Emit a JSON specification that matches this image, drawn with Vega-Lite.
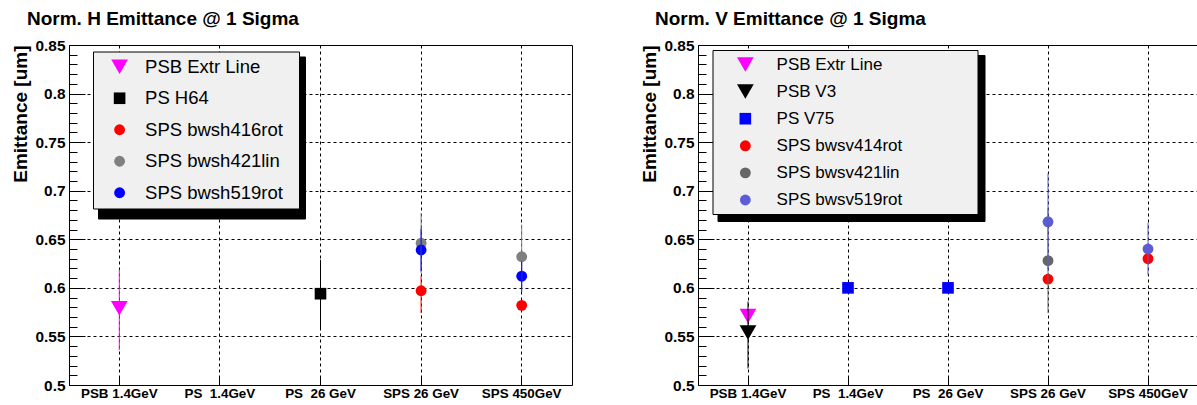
{
  "$schema": "https://vega.github.io/schema/vega-lite/v6.json",
  "padding": {"left": 10, "top": 9, "right": 0, "bottom": 0},
  "background": "white",
  "datasets": {
    "h": [
      {"series": "PSB Extr Line", "cat": "PSB 1.4GeV", "y": 0.579, "lo": 0.536, "hi": 0.619},
      {"series": "PS H64", "cat": "PS\u00a0 26 GeV", "y": 0.594, "lo": 0.558, "hi": 0.629},
      {"series": "SPS bwsh416rot", "cat": "SPS 26 GeV", "y": 0.597, "lo": 0.574, "hi": 0.613},
      {"series": "SPS bwsh421lin", "cat": "SPS 26 GeV", "y": 0.646, "lo": 0.615, "hi": 0.677},
      {"series": "SPS bwsh519rot", "cat": "SPS 26 GeV", "y": 0.639, "lo": 0.617, "hi": 0.661},
      {"series": "SPS bwsh416rot", "cat": "SPS 450GeV", "y": 0.582, "lo": 0.58, "hi": 0.584},
      {"series": "SPS bwsh421lin", "cat": "SPS 450GeV", "y": 0.632, "lo": 0.599, "hi": 0.665},
      {"series": "SPS bwsh519rot", "cat": "SPS 450GeV", "y": 0.612, "lo": 0.596, "hi": 0.627}
    ],
    "v": [
      {"series": "PSB Extr Line", "cat": "PSB 1.4GeV", "y": 0.571, "lo": 0.566, "hi": 0.576},
      {"series": "PSB V3", "cat": "PSB 1.4GeV", "y": 0.554, "lo": 0.517, "hi": 0.586},
      {"series": "PS V75", "cat": "PS\u00a0 1.4GeV", "y": 0.6, "lo": 0.598, "hi": 0.602},
      {"series": "PS V75", "cat": "PS\u00a0 26 GeV", "y": 0.6, "lo": 0.598, "hi": 0.602},
      {"series": "SPS bwsv414rot", "cat": "SPS 26 GeV", "y": 0.609, "lo": 0.605, "hi": 0.613},
      {"series": "SPS bwsv421lin", "cat": "SPS 26 GeV", "y": 0.628, "lo": 0.574, "hi": 0.682},
      {"series": "SPS bwsv519rot", "cat": "SPS 26 GeV", "y": 0.668, "lo": 0.618, "hi": 0.718},
      {"series": "SPS bwsv414rot", "cat": "SPS 450GeV", "y": 0.63, "lo": 0.627, "hi": 0.633},
      {"series": "SPS bwsv519rot", "cat": "SPS 450GeV", "y": 0.64, "lo": 0.613, "hi": 0.667}
    ]
  },
  "spacing": 66,
  "resolve": {"scale": {"color": "independent", "shape": "independent", "size": "independent", "fill": "independent", "y": "independent", "x": "independent"}, "legend": {"color": "independent", "shape": "independent", "size": "independent", "fill": "independent"}},
  "hconcat": [
    {
      "width": 503,
      "height": 340,
      "title": {"text": "Norm. H Emittance @ 1 Sigma", "anchor": "start", "frame": "group", "dx": -42, "offset": -5.8, "baseline": "alphabetic", "fontSize": 19, "fontWeight": "bold", "font": "Liberation Sans", "color": "#000"},
      "data": {"name": "h"},
      "encoding": {
        "x": {"field": "cat", "type": "nominal", "sort": null, "title": null,
          "scale": {"domain": ["PSB 1.4GeV", "PS\u00a0 1.4GeV", "PS\u00a0 26 GeV", "SPS 26 GeV", "SPS 450GeV"], "paddingInner": 0, "paddingOuter": 0}}
      },
      "resolve": {"scale": {"y": "independent"}},
      "layer": [
        {
          "mark": {"type": "point", "filled": true, "opacity": 1, "zindex": 2},
          "encoding": {
            "y": {"field": "y", "type": "quantitative", "title": "Emittance [um]", "scale": {"domain": [0.5, 0.85], "nice": false, "zero": false},
              "axis": {"orient": "left", "values": [0.5, 0.55, 0.6, 0.65, 0.7, 0.75, 0.8, 0.85], "format": "~g", "tickSize": -16, "labelPadding": 20, "grid": true}},
            "color": {"field": "series", "type": "nominal",
              "scale": {"domain": ["PSB Extr Line", "PS H64", "SPS bwsh416rot", "SPS bwsh421lin", "SPS bwsh519rot"], "range": ["#ff00ff", "#000000", "#ff0000", "#808080", "#0000ff"]},
              "legend": {"orient": "none", "legendX": 24, "legendY": 6.5, "padding": 6, "symbolOffset": 11.35, "labelOffset": 16.2, "labelFontSize": 18.5, "labelFont": "Liberation Sans", "labelColor": "#000", "rowPadding": 12.5, "fillColor": "#f0f0f0", "strokeColor": "#000", "title": "\u00a0", "titleOrient": "right", "titlePadding": 10, "titleFontSize": 11, "zindex": 4, "symbolStrokeWidth": 0}},
            "shape": {"field": "series", "type": "nominal",
              "scale": {"domain": ["PSB Extr Line", "PS H64", "SPS bwsh416rot", "SPS bwsh421lin", "SPS bwsh519rot"], "range": ["triangle-down", "square", "circle", "circle", "circle"]}},
            "size": {"field": "series", "type": "nominal",
              "scale": {"type": "ordinal", "domain": ["PSB Extr Line", "PS H64", "SPS bwsh416rot", "SPS bwsh421lin", "SPS bwsh519rot"], "range": [280, 135, 118, 118, 118]}}
          }
        },
        {
          "mark": {"type": "rule", "strokeWidth": 1, "zindex": 1},
          "encoding": {
            "y": {"field": "lo", "type": "quantitative", "scale": {"domain": [0.5, 0.85], "nice": false, "zero": false}, "axis": null},
            "y2": {"field": "hi"},
            "color": {"field": "series", "type": "nominal", "legend": null,
              "scale": {"domain": ["PSB Extr Line", "PS H64", "SPS bwsh416rot", "SPS bwsh421lin", "SPS bwsh519rot"], "range": ["#ff00ff", "#000000", "#ff0000", "#808080", "#0000ff"]}}
          }
        },
        {
          "mark": {"type": "point", "filled": true, "opacity": 0},
          "encoding": {
            "y": {"field": "y", "type": "quantitative", "scale": {"domain": [0.5, 0.85], "nice": false, "zero": false},
              "axis": {"orient": "left", "title": null, "labels": false, "grid": false, "domain": false, "tickSize": -8,
                "values": [0.51, 0.52, 0.53, 0.54, 0.56, 0.57, 0.58, 0.59, 0.61, 0.62, 0.63, 0.64, 0.66, 0.67, 0.68, 0.69, 0.71, 0.72, 0.73, 0.74, 0.76, 0.77, 0.78, 0.79, 0.81, 0.82, 0.83, 0.84]}},
            "fill": {"field": "series", "type": "nominal", "scale": {"range": ["#000000"]},
              "legend": {"orient": "none", "legendX": 29, "legendY": 11.5, "padding": 6, "symbolOffset": 13, "labelOffset": 0, "labelExpr": "''", "labelFontSize": 18.5, "labelFont": "Liberation Sans", "labelColor": "#000", "rowPadding": 12.5, "fillColor": "#000", "strokeColor": "#000", "title": "\u00a0", "titleOrient": "right", "titlePadding": 161.05, "titleFontSize": 11, "titleColor": "#000", "symbolSize": 342, "zindex": 3}}
          }
        }
      ]
    },
    {
      "width": 500,
      "height": 340,
      "title": {"text": "Norm. V Emittance @ 1 Sigma", "anchor": "start", "frame": "group", "dx": -43, "offset": -5.8, "baseline": "alphabetic", "fontSize": 19, "fontWeight": "bold", "font": "Liberation Sans", "color": "#000"},
      "data": {"name": "v"},
      "encoding": {
        "x": {"field": "cat", "type": "nominal", "sort": null, "title": null,
          "scale": {"domain": ["PSB 1.4GeV", "PS\u00a0 1.4GeV", "PS\u00a0 26 GeV", "SPS 26 GeV", "SPS 450GeV"], "paddingInner": 0, "paddingOuter": 0}}
      },
      "resolve": {"scale": {"y": "independent"}},
      "layer": [
        {
          "mark": {"type": "point", "filled": true, "opacity": 1, "zindex": 2},
          "encoding": {
            "y": {"field": "y", "type": "quantitative", "title": "Emittance [um]", "scale": {"domain": [0.5, 0.85], "nice": false, "zero": false},
              "axis": {"orient": "left", "values": [0.5, 0.55, 0.6, 0.65, 0.7, 0.75, 0.8, 0.85], "format": "~g", "tickSize": -16, "labelPadding": 20, "grid": true}},
            "color": {"field": "series", "type": "nominal",
              "scale": {"domain": ["PSB Extr Line", "PSB V3", "PS V75", "SPS bwsv414rot", "SPS bwsv421lin", "SPS bwsv519rot"], "range": ["#ff00ff", "#000000", "#0000ff", "#ff0000", "#666666", "#5c5cd6"]},
              "legend": {"orient": "none", "legendX": 14.5, "legendY": 5, "padding": 6, "symbolOffset": 18.35, "labelOffset": 22.7, "labelFontSize": 17, "labelFont": "Liberation Sans", "labelColor": "#000", "rowPadding": 9.1, "fillColor": "#f0f0f0", "strokeColor": "#000", "title": "\u00a0", "titleOrient": "right", "titlePadding": 69, "titleFontSize": 11, "zindex": 4, "symbolStrokeWidth": 0}},
            "shape": {"field": "series", "type": "nominal",
              "scale": {"domain": ["PSB Extr Line", "PSB V3", "PS V75", "SPS bwsv414rot", "SPS bwsv421lin", "SPS bwsv519rot"], "range": ["triangle-down", "triangle-down", "square", "circle", "circle", "circle"]}},
            "size": {"field": "series", "type": "nominal",
              "scale": {"type": "ordinal", "domain": ["PSB Extr Line", "PSB V3", "PS V75", "SPS bwsv414rot", "SPS bwsv421lin", "SPS bwsv519rot"], "range": [280, 280, 135, 118, 118, 118]}}
          }
        },
        {
          "mark": {"type": "rule", "strokeWidth": 1, "zindex": 1},
          "encoding": {
            "y": {"field": "lo", "type": "quantitative", "scale": {"domain": [0.5, 0.85], "nice": false, "zero": false}, "axis": null},
            "y2": {"field": "hi"},
            "color": {"field": "series", "type": "nominal", "legend": null,
              "scale": {"domain": ["PSB Extr Line", "PSB V3", "PS V75", "SPS bwsv414rot", "SPS bwsv421lin", "SPS bwsv519rot"], "range": ["#ff00ff", "#000000", "#0000ff", "#ff0000", "#666666", "#5c5cd6"]}}
          }
        },
        {
          "mark": {"type": "point", "filled": true, "opacity": 0},
          "encoding": {
            "y": {"field": "y", "type": "quantitative", "scale": {"domain": [0.5, 0.85], "nice": false, "zero": false},
              "axis": {"orient": "left", "title": null, "labels": false, "grid": false, "domain": false, "tickSize": -8,
                "values": [0.51, 0.52, 0.53, 0.54, 0.56, 0.57, 0.58, 0.59, 0.61, 0.62, 0.63, 0.64, 0.66, 0.67, 0.68, 0.69, 0.71, 0.72, 0.73, 0.74, 0.76, 0.77, 0.78, 0.79, 0.81, 0.82, 0.83, 0.84]}},
            "fill": {"field": "series", "type": "nominal", "scale": {"range": ["#000000"]},
              "legend": {"orient": "none", "legendX": 19.5, "legendY": 10, "padding": 6, "symbolOffset": 20, "labelOffset": 0, "labelExpr": "''", "labelFontSize": 17, "labelFont": "Liberation Sans", "labelColor": "#000", "rowPadding": 9.1, "fillColor": "#000", "strokeColor": "#000", "title": "\u00a0", "titleOrient": "right", "titlePadding": 215.45, "titleFontSize": 11, "titleColor": "#000", "symbolSize": 289, "zindex": 3}}
          }
        }
      ]
    }
  ],
  "config": {
    "font": "Liberation Sans",
    "view": {"stroke": "#000", "strokeWidth": 1},
    "axisX": {
      "grid": true, "gridColor": "#000", "gridDash": [3, 3], "gridWidth": 1, "gridOpacity": 1,
      "domain": false, "tickSize": -8, "tickColor": "#000", "tickWidth": 1,
      "labelFont": "Liberation Sans", "labelFontWeight": "bold", "labelFontSize": 13.4, "labelColor": "#000",
      "labelBaseline": "alphabetic", "labelPadding": 20, "labelAngle": 0, "labelLimit": 0
    },
    "axisY": {
      "gridColor": "#000", "gridDash": [3, 3], "gridWidth": 1,
      "domain": false, "tickColor": "#000", "tickWidth": 1,
      "labelFont": "Liberation Sans", "labelFontWeight": "bold", "labelFontSize": 15.4, "labelColor": "#000",
      "labelOverlap": false, "labelBound": false,
      "titleFont": "Liberation Sans", "titleFontWeight": "bold", "titleFontSize": 19, "titleColor": "#000",
      "titleX": -49, "titleY": 0, "titleAlign": "right", "titleBaseline": "middle", "titleAngle": -90
    }
  }
}
